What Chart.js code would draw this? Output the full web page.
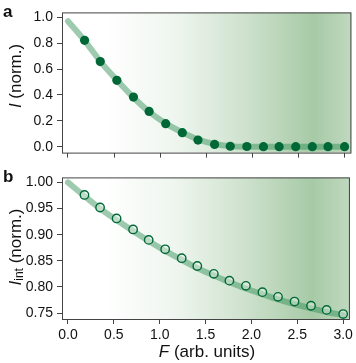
<!DOCTYPE html>
<html>
<head>
<meta charset="utf-8">
<script src="https://cdn.jsdelivr.net/npm/chart.js@4.4.1/dist/chart.umd.min.js"></script>
<style>
html, body { margin: 0; padding: 0; background: #fff; }
#wrap { position: relative; width: 356px; height: 363px; }
canvas { position: absolute; left: 0; }
#panelA { top: 0; }
#panelB { top: 165px; }
</style>
</head>
<body>
<div id="wrap">
  <canvas id="panelA" width="356" height="165"></canvas>
  <canvas id="panelB" width="356" height="198"></canvas>
</div>
<script>
// measured field values
var fMeasured = [0.18, 0.35, 0.53, 0.71, 0.88, 1.06, 1.24, 1.41, 1.59, 1.76, 1.94, 2.12, 2.29, 2.47, 2.65, 2.82, 3.0];
var peakMeasured = [0.822, 0.658, 0.513, 0.383, 0.272, 0.178, 0.108, 0.051, 0.017, 0.003, 0.001, 0.0, 0.0, 0.0, 0.0, 0.0, 0.0];
var intMeasured = [0.976, 0.952, 0.931, 0.910, 0.890, 0.872, 0.855, 0.840, 0.825, 0.812, 0.802, 0.790, 0.781, 0.772, 0.764, 0.756, 0.748];

// model curves
var fModel = [0, 0.18, 0.35, 0.53, 0.71, 0.88, 1.06, 1.24, 1.41, 1.59, 1.76, 1.94, 2.12, 2.29, 2.47, 2.65, 2.82, 3.0];
var peakModel = [0.97, 0.82, 0.66, 0.515, 0.38, 0.27, 0.18, 0.11, 0.055, 0.02, 0.004, 0.0, 0.0, 0.0, 0.0, 0.0, 0.0, 0.0];
var intModel = [1.0, 0.974, 0.950, 0.928, 0.907, 0.888, 0.869, 0.852, 0.836, 0.822, 0.809, 0.797, 0.786, 0.776, 0.767, 0.759, 0.752, 0.746];

var fTicks = [0, 0.5, 1.0, 1.5, 2.0, 2.5, 3.0];
var peakTicks = [0, 0.2, 0.4, 0.6, 0.8, 1.0];
var intTicks = [0.75, 0.80, 0.85, 0.90, 0.95, 1.00];

var dark = '#006837';
var fitColor = 'rgba(40, 140, 80, 0.45)';
var axisColor = '#444';
var font = 'Liberation Sans, Arial, Helvetica, sans-serif';

function pairs(xs, ys) {
    return xs.map(function (x, i) { return { x: x, y: ys[i] }; });
}

function drawText(ctx, parts, cx, cy, rotate) {
    ctx.save();
    ctx.translate(cx, cy);
    if (rotate) ctx.rotate(-Math.PI / 2);
    var total = 0;
    parts.forEach(function (p) { ctx.font = p.font; total += ctx.measureText(p.text).width; });
    var x = -total / 2;
    ctx.textBaseline = 'middle';
    ctx.textAlign = 'left';
    ctx.fillStyle = '#111';
    parts.forEach(function (p) {
        ctx.font = p.font;
        ctx.fillText(p.text, x, p.dy || 0);
        x += ctx.measureText(p.text).width;
    });
    ctx.restore();
}

// shaded background, frame and labels
var panelPlugin = {
    id: 'panel',
    beforeDraw: function (chart) {
        var a = chart.chartArea, ctx = chart.ctx;
        var g = ctx.createLinearGradient(a.left, 0, a.right, 0);
        g.addColorStop(0, '#ffffff');
        g.addColorStop(0.15, '#ffffff');
        g.addColorStop(0.4, '#eef5ee');
        g.addColorStop(0.62, '#d0e3cf');
        g.addColorStop(0.87, '#a7caa6');
        g.addColorStop(1, '#c0d9bf');
        ctx.save();
        ctx.fillStyle = g;
        ctx.fillRect(a.left, a.top, a.right - a.left, a.bottom - a.top);
        ctx.restore();
    },
    afterDraw: function (chart, args, opts) {
        var a = chart.chartArea, ctx = chart.ctx;
        ctx.save();
        ctx.strokeStyle = axisColor;
        ctx.lineWidth = 1;
        ctx.strokeRect(a.left + 0.5, a.top + 0.5, a.right - a.left - 1, a.bottom - a.top);
        ctx.fillStyle = '#111';
        ctx.font = 'bold 17px ' + font;
        ctx.textBaseline = 'middle';
        ctx.fillText(opts.letter, 3, opts.letterY);
        ctx.restore();
        drawText(ctx, opts.yTitle, 16, opts.yTitleY, true);
        if (opts.xTitle) drawText(ctx, opts.xTitle, 207, opts.xTitleY, false);
    }
};

function axes(yTicks, yMin, yMax, yDigits, showX, xHeight) {
    return {
        x: {
            type: 'linear',
            min: -0.065,
            max: 3.074,
            afterBuildTicks: function (s) { s.ticks = fTicks.map(function (v) { return { value: v }; }); },
            afterFit: function (s) { s.height = xHeight; },
            border: { display: false },
            grid: { drawOnChartArea: false, drawTicks: true, tickLength: 5, color: axisColor },
            ticks: {
                display: showX,
                padding: 3,
                maxRotation: 0,
                color: '#111',
                font: { family: font, size: 14 },
                callback: function (v) { return v.toFixed(1); }
            }
        },
        y: {
            min: yMin,
            max: yMax,
            afterBuildTicks: function (s) { s.ticks = yTicks.map(function (v) { return { value: v }; }); },
            afterFit: function (s) { s.width = 62; },
            border: { display: false },
            grid: { drawOnChartArea: false, drawTicks: true, tickLength: 5, color: axisColor },
            ticks: {
                padding: 4,
                color: '#111',
                font: { family: font, size: 14 },
                callback: function (v) { return v.toFixed(yDigits); }
            }
        }
    };
}

function makeChart(id, model, measured, hollow, yTicks, yMin, yMax, yDigits, showX, xHeight, labels) {
    return new Chart(document.getElementById(id), {
        type: 'scatter',
        data: {
            datasets: [{
                data: pairs(fMeasured, measured),
                pointRadius: hollow ? 4.2 : 4.6,
                pointBackgroundColor: hollow ? 'rgba(235, 244, 235, 0.45)' : dark,
                pointBorderColor: dark,
                pointBorderWidth: hollow ? 1.4 : 0,
                showLine: false
            }, {
                data: pairs(fModel, model),
                showLine: true,
                pointRadius: 0,
                borderColor: fitColor,
                borderWidth: 6,
                borderCapStyle: 'round',
                cubicInterpolationMode: 'monotone'
            }]
        },
        options: {
            responsive: false,
            devicePixelRatio: 1,
            animation: false,
            layout: { padding: { top: 4, right: 3, left: 0, bottom: 0 } },
            plugins: { legend: { display: false }, tooltip: { enabled: false }, panel: labels },
            scales: axes(yTicks, yMin, yMax, yDigits, showX, xHeight)
        },
        plugins: [panelPlugin]
    });
}

var ital = 'italic 17px ' + font, reg = '17px ' + font;

makeChart('panelA', peakModel, peakMeasured, false, peakTicks, -0.046, 1.038, 1, false, 11, {
    letter: 'a', letterY: 12,
    yTitle: [{ text: 'I', font: ital }, { text: ' (norm.)', font: reg }], yTitleY: 76
});

makeChart('panelB', intModel, intMeasured, true, intTicks, 0.7386, 1.0096, 2, true, 44, {
    letter: 'b', letterY: 12,
    yTitle: [{ text: 'I', font: ital }, { text: 'int', font: '12px ' + font, dy: 4 }, { text: ' (norm.)', font: reg }], yTitleY: 82,
    xTitle: [{ text: 'F', font: ital }, { text: ' (arb. units)', font: reg }], xTitleY: 187
});
</script>
</body>
</html>
